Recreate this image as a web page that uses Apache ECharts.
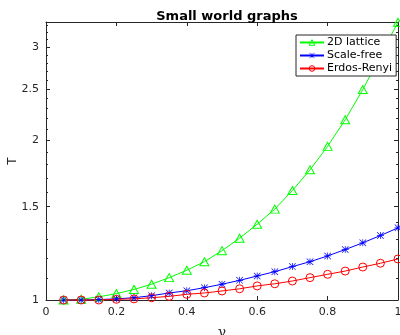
<!DOCTYPE html>
<html>
<head>
<meta charset="utf-8">
<script src="https://cdn.jsdelivr.net/npm/echarts@6/dist/echarts.min.js"></script>
<style>html,body{margin:0;padding:0;background:#fff;}#c{width:400px;height:335px;}</style>
</head>
<body>
<div id="c"></div>
<script>
const gamma = [0.05,0.10,0.15,0.20,0.25,0.30,0.35,0.40,0.45,0.50,0.55,0.60,0.65,0.70,0.75,0.80,0.85,0.90,0.95,1.00];
const lattice2D = [1.000,1.003,1.014,1.028,1.047,1.071,1.102,1.138,1.181,1.239,1.308,1.390,1.484,1.609,1.760,1.949,2.188,2.494,2.890,3.342];
const scaleFree = [1.000,1.000,1.002,1.005,1.010,1.019,1.031,1.041,1.055,1.071,1.089,1.110,1.131,1.156,1.181,1.211,1.245,1.282,1.323,1.368];
const erdosRenyi = [1.000,1.000,1.000,1.003,1.005,1.010,1.016,1.025,1.031,1.040,1.050,1.063,1.073,1.086,1.102,1.118,1.134,1.154,1.173,1.195];
const seriesNames = ['2D lattice','Scale-free','Erdos-Renyi'];
const yMajorTicks = [1,1.5,2,2.5,3];
const yMinorTicks = [1.1,1.2,1.3,1.4,1.6,1.7,1.8,1.9,2.1,2.2,2.3,2.4,2.6,2.7,2.8,2.9,3.1,3.2,3.3];
const xTicks = [0,0.2,0.4,0.6,0.8,1];

const AX = '#262626';
const asterisk = 'path://M9 0L11 0L11 20L9 20Z M0 9L20 9L20 11L0 11Z M0 1.4L1.4 0L20 18.6L18.6 20Z M18.6 0L20 1.4L1.4 20L0 18.6Z';
const pairs = arr => gamma.map((g,i)=>[g,arr[i]]);
const yMin = 1, yMax = 3.345;
const hollow = c => ({color:'rgba(255,255,255,0)', borderColor:c, borderWidth:1});

function yAx(pos, ticks, len, showLine, showLabel, extra){
  return Object.assign({
    type:'log', logBase:10, min:yMin, max:yMax, position:pos,
    axisLine:{show:showLine, onZero:false, lineStyle:{color:AX,width:1}},
    axisTick:{show:true, inside:true, length:len, customValues:ticks, lineStyle:{color:AX,width:1}},
    axisLabel:{show:showLabel, customValues:yMajorTicks, color:AX, fontSize:11, fontFamily:'DejaVu Sans', margin:7, formatter:v=>String(+(+v).toFixed(2))},
    minorTick:{show:false}, splitLine:{show:false}
  }, extra||{});
}

const chart = echarts.init(document.getElementById('c'), null, {renderer:'canvas'});
chart.setOption({
  animation:false,
  backgroundColor:'#fff',
  title:{text:'Small world graphs', left:222, textAlign:'center', top:5,
    textStyle:{fontSize:13, fontWeight:'bold', color:'#000', fontFamily:'DejaVu Sans'}},
  grid:{left:46, right:2, top:22, bottom:35, containLabel:false, outerBoundsMode:'none'},
  legend:{
    orient:'vertical', left:296, top:35,
    data:[
      {name:seriesNames[0], itemStyle:hollow('#00ff00')},
      {name:seriesNames[1]},
      {name:seriesNames[2], itemStyle:hollow('#ff0000')}
    ],
    backgroundColor:'#fff', borderColor:AX, borderWidth:1,
    padding:[2,4,2,3], itemGap:2, itemWidth:24, itemHeight:7,
    textStyle:{fontSize:11, color:'#000', fontFamily:'DejaVu Sans', padding:[0,0,0,-2]}
  },
  xAxis:[
    {type:'value', min:0, max:1, interval:0.2, position:'bottom',
     axisLine:{show:true,onZero:false,lineStyle:{color:AX,width:1}},
     axisTick:{inside:true,length:4,lineStyle:{color:AX}},
     axisLabel:{color:AX,fontSize:11,fontFamily:'DejaVu Sans',margin:7,customValues:xTicks,formatter:v=>String(+(+v).toFixed(1))},
     splitLine:{show:false},
     name:'γ', nameLocation:'middle', nameGap:26,
     nameTextStyle:{fontFamily:'DejaVu Serif', fontSize:14, color:AX}},
    {type:'value', min:0, max:1, interval:0.2, position:'top',
     axisLine:{show:true,onZero:false,lineStyle:{color:AX,width:1}},
     axisTick:{inside:true,length:4,lineStyle:{color:AX}},
     axisLabel:{show:false}, splitLine:{show:false}}
  ],
  yAxis:[
    yAx('left', yMajorTicks, 4, true, true, {name:'T', nameLocation:'middle', nameGap:27, nameMoveOverlap:false,
      nameTextStyle:{fontFamily:'DejaVu Sans', fontSize:12, color:AX}}),
    yAx('left', yMinorTicks, 2, false, false),
    yAx('right', yMajorTicks, 4, true, false),
    yAx('right', yMinorTicks, 2, false, false)
  ],
  series:[
    {name:seriesNames[0], type:'line', data:pairs(lattice2D), clip:false,
     symbol:'triangle', symbolSize:[9,8], showAllSymbol:true,
     lineStyle:{color:'#00ff00', width:1},
     itemStyle:hollow('#00ff00')},
    {name:seriesNames[1], type:'line', data:pairs(scaleFree), clip:false,
     symbol:asterisk, symbolSize:7, showAllSymbol:true,
     lineStyle:{color:'#0000ff', width:1},
     itemStyle:{color:'#0000ff', borderWidth:0}},
    {name:seriesNames[2], type:'line', data:pairs(erdosRenyi), clip:false,
     symbol:'circle', symbolSize:8, showAllSymbol:true,
     lineStyle:{color:'#ff0000', width:1},
     itemStyle:hollow('#ff0000')}
  ]
});
</script>
</body>
</html>
